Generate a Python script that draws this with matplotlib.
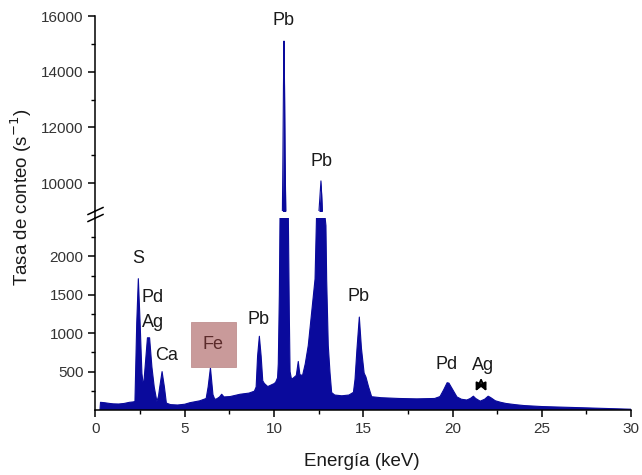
import matplotlib.pyplot as plt
from matplotlib.lines import Line2D
from matplotlib.patches import Rectangle

# spectrum (keV, counts per second)
energy = [0.25, 0.28, 0.5, 0.8, 1.0, 1.3, 1.6, 1.9, 2.1, 2.21, 2.31, 2.40, 2.5, 2.6,
          2.69, 2.78, 2.91, 3.03, 3.16, 3.29, 3.44, 3.53, 3.6, 3.73, 3.86, 3.97,
          4.2, 4.6, 5.0, 5.29, 5.85, 6.2, 6.31, 6.44, 6.58, 6.68, 6.79, 6.95, 7.07,
          7.2, 7.54, 8.1, 8.6, 8.9, 9.0, 9.08, 9.18, 9.28, 9.37, 9.46, 9.65, 10.02,
          10.1, 10.2, 10.24, 10.3, 10.34, 10.42, 10.47, 10.5, 10.53, 10.56, 10.59,
          10.62, 10.66, 10.72, 10.8, 10.86, 10.9, 10.98, 11.1, 11.25, 11.36, 11.45,
          11.6, 11.75, 11.92, 12.11, 12.3, 12.39, 12.52, 12.58, 12.63, 12.67, 12.71,
          12.82, 12.91, 12.95, 13.04, 13.14, 13.23, 13.4, 13.8, 14.2, 14.45, 14.54,
          14.65, 14.78, 14.9, 15.05, 15.15, 15.3, 15.47, 16.0, 17.0, 18.0, 19.0,
          19.3, 19.5, 19.7, 19.8, 20.0, 20.25, 20.5, 20.8, 21.0, 21.17, 21.3, 21.55,
          21.8, 22.0, 22.15, 22.4, 22.7, 23.0, 23.5, 24.0, 25.0, 26.0, 27.0, 28.0,
          29.0, 30.0]
counts = [0, 100, 95, 85, 80, 78, 85, 100, 105, 110, 1130, 1710, 1130, 477,
          300, 560, 940, 940, 560, 300, 110, 180, 300, 500, 300, 90,
          70, 65, 75, 95, 120, 150, 300, 550, 200, 140, 145, 170, 205,
          170, 175, 205, 220, 245, 300, 700, 960, 700, 380, 345, 305, 345,
          365, 420, 600, 1500, 2600, 7000, 9000, 11000, 13500, 15100, 13500,
          11000, 9000, 6000, 2600, 1200, 500, 400, 420, 450, 632, 460,
          450, 600, 840, 1270, 1705, 2600, 9000, 9600, 10080, 9600, 9000,
          2600, 2400, 1700, 840, 480, 227, 195, 185, 195, 230, 400,
          800, 1210, 800, 480, 430, 300, 173, 160, 150, 145, 150,
          175, 260, 355, 350, 270, 170, 140, 130, 150, 180, 150, 115,
          140, 180, 160, 120, 100, 85, 70, 58, 45, 38, 32, 25,
          18, 10]

# peak labels: text, energy, counts
labels_low = [('S', 2.38, 1975), ('Pd', 3.22, 1470), ('Ag', 3.22, 1140),
              ('Ca', 4.0, 715), ('Pb', 9.12, 1180), ('Pb', 14.72, 1480),
              ('Pd', 19.67, 597), ('Ag', 21.72, 584)]
labels_high = [('Pb', 10.52, 15856), ('Pb', 12.67, 10790)]

blue = '#0a0a9c'
plt.rcParams['font.family'] = ['Liberation Sans', 'DejaVu Sans']

fig = plt.figure(figsize=(6.42, 4.75), dpi=100)
L = 95.5 / 642
W = (631 - 95.5) / 642
ax_top = fig.add_axes([L, (475 - 211) / 475, W, 195 / 475])
ax_bot = fig.add_axes([L, (475 - 410) / 475, W, 192 / 475])

for ax in (ax_top, ax_bot):
    ax.fill_between(energy, 0, counts, color=blue, lw=0)
    ax.plot(energy, counts, color=blue, lw=0.8)
    ax.set_xlim(0, 30)
    ax.spines['top'].set_visible(False)
    ax.spines['right'].set_visible(False)
    ax.spines['left'].set_linewidth(1.1)
    ax.spines['bottom'].set_linewidth(1.1)
    ax.tick_params(which='major', direction='out', length=5, width=1.1,
                   labelsize=11, labelcolor='#333333')
    ax.tick_params(which='minor', direction='out', length=3, width=1.0)

ax_top.set_ylim(9000, 16000)
ax_top.spines['bottom'].set_visible(False)
ax_top.set_xticks([])
ax_top.set_yticks([10000, 12000, 14000, 16000])
ax_top.set_yticks([11000, 13000, 15000], minor=True)

ax_bot.set_ylim(0, 2500)
ax_bot.set_yticks([500, 1000, 1500, 2000])
ax_bot.set_yticks([250, 750, 1250, 1750, 2250], minor=True)
ax_bot.set_xticks(range(0, 31, 5))
ax_bot.set_xticks([2.5, 7.5, 12.5, 17.5, 22.5, 27.5], minor=True)

# join the left spine across the gap and draw the break marks
y_hi = (475 - 211) / 475
y_lo = (475 - 218) / 475
fig.add_artist(Line2D([L, L], [y_lo, y_hi], transform=fig.transFigure,
                      color='k', lw=1.1))
dx = 7.5 / 642
dy = 3.5 / 475
for yc in (y_hi, y_lo):
    fig.add_artist(Line2D([L - dx, L + dx], [yc - dy, yc + dy],
                          transform=fig.transFigure, color='k', lw=1.1))

for txt, x, y in labels_low:
    ax_bot.text(x, y, txt, ha='center', va='center', fontsize=13, color='#1a1a1a')
for txt, x, y in labels_high:
    ax_top.text(x, y, txt, ha='center', va='center', fontsize=13, color='#1a1a1a',
                clip_on=False)

# Fe box
ax_bot.add_patch(Rectangle((5.35, 562), 2.5, 585, facecolor='#c99a9a',
                           edgecolor='#c09090', lw=0.6, zorder=3))
ax_bot.text(6.6, 855, 'Fe', ha='center', va='center', fontsize=13,
            color='#5b2b2b', zorder=4)

# arrows to the Ag K lines
for tip in (21.3, 21.9):
    ax_bot.annotate('', xy=(tip, 245), xytext=(21.6, 390),
                    arrowprops=dict(arrowstyle='-|>', color='k', lw=1.4,
                                    mutation_scale=11, shrinkA=0, shrinkB=0))

fig.text(362 / 642, 1 - 462 / 475, 'Energía (keV)', ha='center', va='center',
         fontsize=13.5, color='#1a1a1a')
fig.text(21 / 642, 1 - 197 / 475, 'Tasa de conteo (s$^{-1}$)', ha='center',
         va='center', rotation=90, fontsize=13.5, color='#1a1a1a')

fig.savefig('out.png', dpi=100)
